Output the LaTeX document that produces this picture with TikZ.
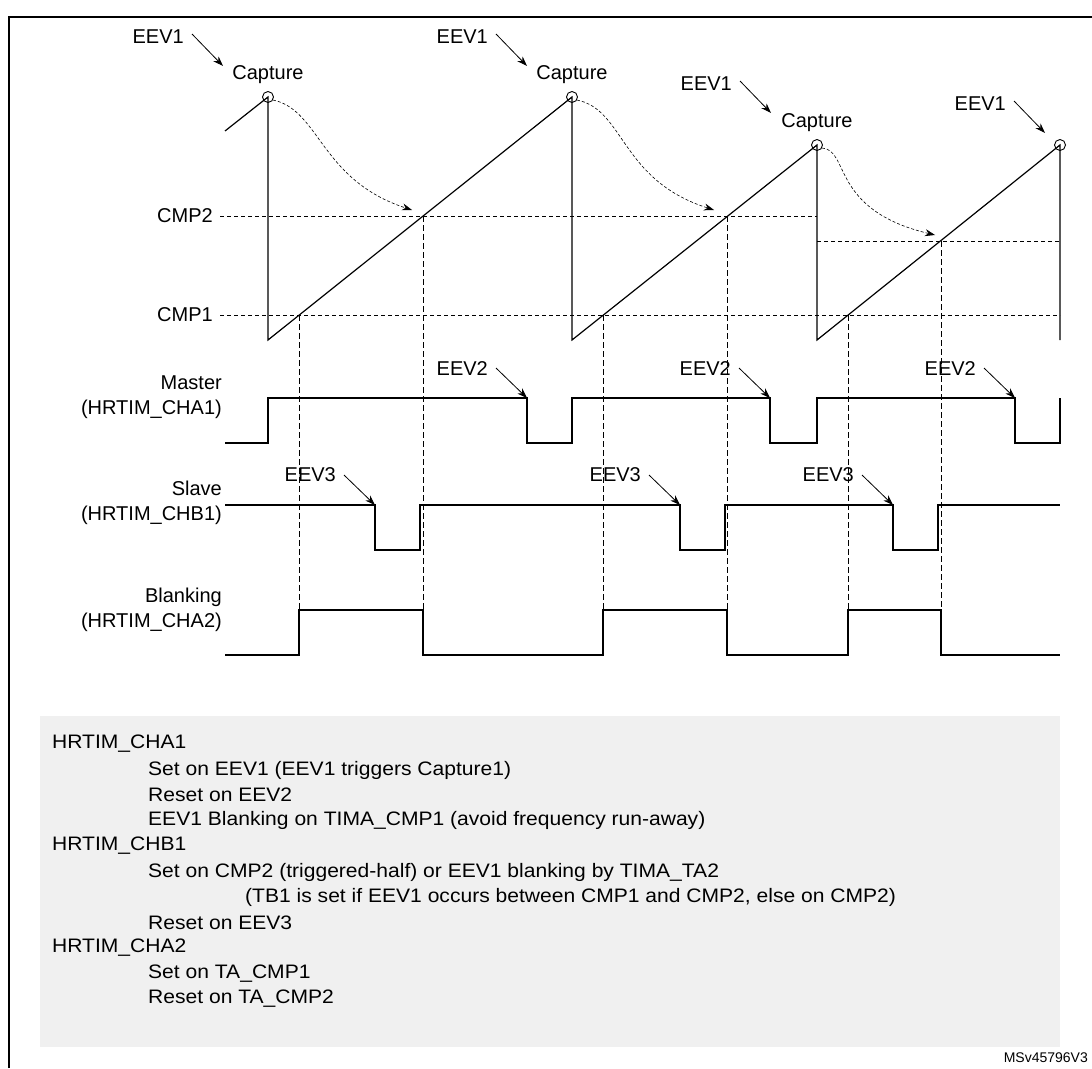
\documentclass[tikz,border=0pt]{standalone}
\usepackage{fontspec}
\setmainfont{Liberation Sans}
\usetikzlibrary{arrows.meta}
\newcommand\widetxt[1]{\scalebox{1.08}[1]{#1}}
\begin{document}
\begin{tikzpicture}[x=1pt,y=-1pt,
  sig/.style={line width=1.2pt},
  dsh/.style={dash pattern=on 4pt off 3pt, line width=0.7pt},
  vdsh/.style={dash pattern=on 6pt off 3pt, line width=0.5pt},
  lbl/.style={font=\fontsize{20}{25}\selectfont, inner sep=0pt},
  ev/.style={-{Stealth[length=10pt,width=7pt]}, line width=0.8pt},
  cv/.style={-{Stealth[length=10pt,width=7pt]}, dash pattern=on 3pt off 2pt, line width=0.6pt},
  txt/.style={font=\fontsize{19.5}{22}\selectfont, anchor=west, inner sep=0pt}]
\useasboundingbox (0,0) rectangle (1092,1068);
\draw[line width=1.2pt] (9,1068) -- (9,17) -- (1092,17);
% reference lines
\node[lbl,anchor=east] (c2) at (213,216) {CMP2};
\node[lbl,anchor=east] (c1) at (213,315) {CMP1};
\coordinate (c2e) at (817,216);
\coordinate (c1e) at (1060,315);
\draw[dsh] (c2.east) ++(7,0) -- (c2e);
\draw[dsh] (c1.east) ++(7,0) -- (c1e);
\coordinate (c2a) at (817,241); \coordinate (c2b) at (1060,241);
\draw[dsh] (c2a) -- (c2b);
% sawtooth
\coordinate (p1) at (268,97); \coordinate (p2) at (572,97);
\coordinate (p3) at (817,145); \coordinate (p4) at (1060,145);
\draw[sig] (225,131) -- (p1) -- (268,340) -- (p2) -- (572,340) -- (p3) -- (817,340) -- (p4) -- (1060,340);
\foreach \p in {p1,p2,p3,p4}{\draw[line width=0.9pt] (\p) circle (5.5pt);}
% curved arrows
\draw[cv] (p1) ++(5,3) .. controls (320,110) and (320,180) .. (412,210);
\draw[cv] (p2) ++(5,3) .. controls (625,110) and (620,180) .. (714,210);
\draw[cv] (p3) ++(5,3) .. controls (850,150) and (830,210) .. (935,235);
% EEV1 / capture
\foreach \n/\x/\y in {a/223/66, b/527/66, c/771/113, d/1045/133}{
  \coordinate (t1\n) at (\x,\y);
  \node[lbl,anchor=east] (e1\n) at (\x-39,\y-29) {EEV1};
  \draw[ev] (\x-31,\y-32) -- (t1\n);
}
\node[lbl] (k1) at (268,75) {Capture};
\node[lbl] (k2) at (572,75) {Capture};
\node[lbl] (k3) at (817,123) {Capture};
% vertical dashed
\foreach \x/\y in {299/315,423/216,603/315,727/216,848/315,941/241}{
  \draw[vdsh] (\x,\y) -- (\x,655);}
% Master
\node[lbl,anchor=east,align=right] (m) at (222,397) {Master\\(HRTIM\_CHA1)};
\draw[sig] (225,443) -| (268,398) -| (527,443) -| (572,398) -| (770,443) -| (817,398) -| (1015,443) -| (1060,398);
\foreach \n/\x in {a/527, b/770, c/1015}{
  \coordinate (t2\n) at (\x,398);
  \node[lbl,anchor=east] (e2\n) at (\x-39,369) {EEV2};
  \draw[ev] (\x-31,368) -- (t2\n);
}
% Slave
\node[lbl,anchor=east,align=right] (s) at (222,503) {Slave\\(HRTIM\_CHB1)};
\draw[sig] (225,505) -| (375,550) -| (420,505) -| (680,550) -| (725,505) -| (893,550) -| (938,505) -- (1060,505);
\foreach \n/\x in {a/375, b/680, c/893}{
  \coordinate (t3\n) at (\x,505);
  \node[lbl,anchor=east] (e3\n) at (\x-39,475) {EEV3};
  \draw[ev] (\x-31,475) -- (t3\n);
}
% Blanking
\node[lbl,anchor=east,align=right] (b) at (222,610) {Blanking\\(HRTIM\_CHA2)};
\draw[sig] (225,655) -| (299,610) -| (423,655) -| (603,610) -| (727,655) -| (848,610) -| (941,655) -- (1060,655);
% text box
\fill[black!6] (40,716) rectangle (1060,1047);
\node[txt] (h1) at (52,744) {\widetxt{HRTIM\_CHA1}};
\node[txt] (l1) at (148,770) {\widetxt{Set on EEV1 (EEV1 triggers Capture1)}};
\node[txt] (l2) at (148,795) {\widetxt{Reset on EEV2}};
\node[txt] (l3) at (148,820) {\widetxt{EEV1 Blanking on TIMA\_CMP1 (avoid frequency run-away)}};
\node[txt] (h2) at (52,846) {\widetxt{HRTIM\_CHB1}};
\node[txt] (l4) at (148,872) {\widetxt{Set on CMP2 (triggered-half) or EEV1 blanking by TIMA\_TA2}};
\node[txt] (l5) at (245,897) {\widetxt{(TB1 is set if EEV1 occurs between CMP1 and CMP2, else on CMP2)}};
\node[txt] (l6) at (148,923) {\widetxt{Reset on EEV3}};
\node[txt] (h3) at (52,948) {\widetxt{HRTIM\_CHA2}};
\node[txt] (l7) at (148,974) {\widetxt{Set on TA\_CMP1}};
\node[txt] (l8) at (148,999) {\widetxt{Reset on TA\_CMP2}};
\node[font=\fontsize{14}{16}\selectfont, anchor=east, inner sep=0pt] (id) at (1088,1058) {MSv45796V3};
\end{tikzpicture}
\end{document}
